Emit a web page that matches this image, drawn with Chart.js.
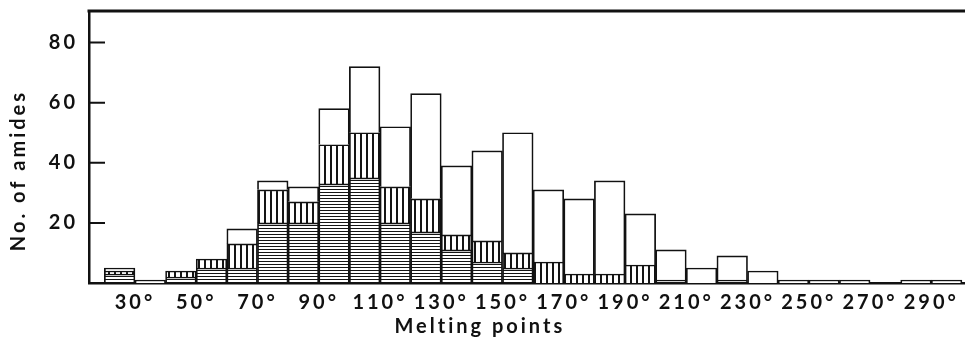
<!DOCTYPE html>
<html>
<head>
<meta charset="utf-8">
<script src="https://cdn.jsdelivr.net/npm/chart.js@4.4.1/dist/chart.umd.min.js"></script>
<style>
  html, body { margin: 0; padding: 0; background: #ffffff; }
  #wrap { width: 965px; height: 339px; position: relative; }
</style>
</head>
<body>
<div id="wrap"><canvas id="c"></canvas></div>
<script>
// ---- data (bins of 10 degrees; value = number of amides) ----
const binStarts = [20, 30, 40, 50, 60, 70, 80, 90, 100, 110, 120, 130, 140, 150, 160, 170, 180, 190, 200, 210, 220, 230, 240, 250, 260, 270, 280, 290];
const horizontalHatched = [3, 0, 2, 5, 5, 20, 20, 33, 35, 20, 17, 11, 7, 5, 0, 0, 0, 0, 1, 0, 1, 0, 0, 0, 0, 0, 0, 0];
const verticalHatched   = [1, 0, 2, 3, 8, 11, 7, 13, 15, 12, 11, 5, 7, 5, 7, 3, 3, 6, 0, 0, 0, 0, 0, 0, 0, 0, 0, 0];
const unhatched         = [1, 1, 0, 0, 5, 3, 5, 12, 22, 20, 35, 23, 30, 40, 24, 25, 31, 17, 10, 5, 8, 4, 1, 1, 1, 0, 1, 1];
const xTickValues = [30, 50, 70, 90, 110, 130, 150, 170, 190, 210, 230, 250, 270, 290];
const yTickValues = [20, 40, 60, 80];
const binWidth = 10;
const xTitle = 'Melting points';
const yTitle = 'No. of amides';

const canvas = document.getElementById('c');
const ctx = canvas.getContext('2d');

function makeHatch(kind) {
  const c = document.createElement('canvas');
  const g = c.getContext('2d');
  if (kind === 'h') { c.width = 4; c.height = 3; } else { c.width = 6; c.height = 4; }
  g.fillStyle = '#ffffff';
  g.fillRect(0, 0, c.width, c.height);
  g.fillStyle = '#151515';
  if (kind === 'h') g.fillRect(0, 0, 4, 1); else g.fillRect(0, 0, 2, 4);
  return ctx.createPattern(c, 'repeat');
}

const toPoints = arr => arr.map((v, i) => ({ x: binStarts[i] + binWidth / 2, y: v === 0 ? null : v }));

const barStyle = {
  borderColor: '#111111',
  borderWidth: 1.7,
  borderSkipped: 'start',
  barPercentage: 1,
  categoryPercentage: 1
};

const frame = {
  id: 'frame',
  beforeDraw(chart) { chart.ctx.letterSpacing = '3px'; },
  afterDraw(chart) {
    const c = chart.ctx;
    const a = chart.chartArea;
    const ys = chart.scales.y;
    c.save();
    c.strokeStyle = '#111111';
    c.lineWidth = 3;
    c.beginPath();
    c.moveTo(a.left - 1.5, a.top);
    c.lineTo(chart.width, a.top);
    c.stroke();
    c.lineWidth = 2;
    c.beginPath();
    yTickValues.forEach(v => {
      let py = ys.getPixelForValue(v);
      if (!isFinite(py)) py = a.bottom - (v - ys.min) / (ys.max - ys.min) * (a.bottom - a.top);
      c.moveTo(a.left, py);
      c.lineTo(a.left + 16, py);
    });
    c.stroke();
    c.restore();
  }
};

const font = { family: 'Lato', size: 20, weight: 'bold' };
const titleFont = { family: 'Lato', size: 20, weight: 'bold' };

new Chart(ctx, {
  type: 'bar',
  data: {
    datasets: [
      Object.assign({ label: 'horizontal', data: toPoints(horizontalHatched), backgroundColor: makeHatch('h') }, barStyle),
      Object.assign({ label: 'vertical', data: toPoints(verticalHatched), backgroundColor: makeHatch('v') }, barStyle),
      Object.assign({ label: 'plain', data: toPoints(unhatched), backgroundColor: '#ffffff' }, barStyle)
    ]
  },
  options: {
    responsive: true,
    maintainAspectRatio: false,
    animation: false,
    devicePixelRatio: 1,
    layout: { padding: { top: 11, right: 0, left: 0, bottom: 0 } },
    plugins: { legend: { display: false }, tooltip: { enabled: false } },
    scales: {
      x: {
        type: 'linear',
        stacked: true,
        offset: false,
        min: 15,
        max: 301,
        afterBuildTicks: s => { s.ticks = xTickValues.map(v => ({ value: v })); },
        afterFit: s => { s.height = 56; s.paddingLeft = 0; s.paddingRight = 0; },
        grid: { display: false, drawTicks: false, offset: false },
        border: { display: true, color: '#111111', width: 2.5 },
        ticks: {
          autoSkip: false, maxRotation: 0, minRotation: 0, padding: 8,
          color: '#111111', font: font,
          callback: v => v + '°'
        },
        title: {
          display: true, text: xTitle + '            ', color: '#111111',
          font: titleFont, padding: { top: 0, bottom: 0 }
        }
      },
      y: {
        stacked: true,
        min: 0,
        max: 90.5,
        afterBuildTicks: s => { s.ticks = yTickValues.map(v => ({ value: v })); },
        afterFit: s => { s.width = 89; s.paddingTop = 0; s.paddingBottom = 0; },
        grid: { display: false, drawTicks: false },
        border: { display: true, color: '#111111', width: 2.5 },
        ticks: { padding: 11, color: '#111111', font: font },
        title: {
          display: true, text: yTitle + '      ', color: '#111111',
          font: titleFont, padding: { top: 7, bottom: 0 }
        }
      }
    }
  },
  plugins: [frame]
});
</script>
</body>
</html>
